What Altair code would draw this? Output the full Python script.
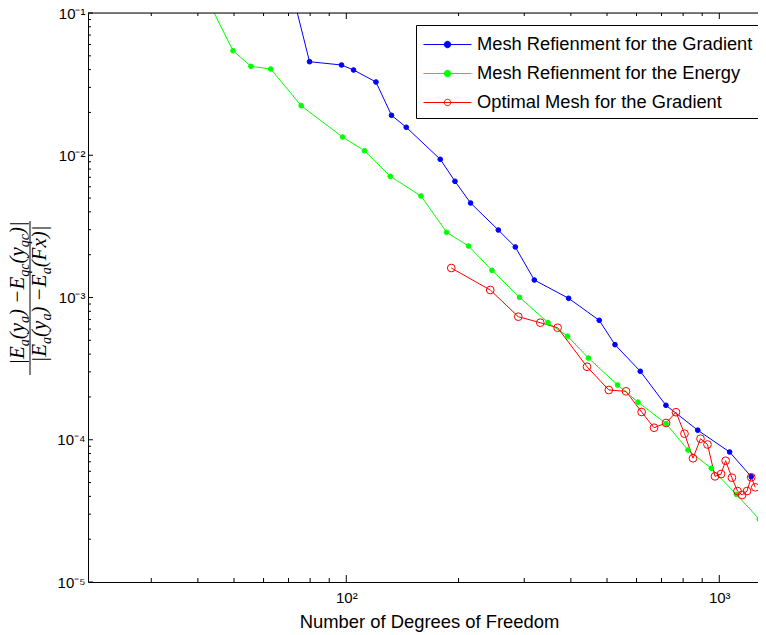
import altair as alt
import pandas as pd

SERIES = ["Mesh Refienment for the Gradient",
          "Mesh Refienment for the Energy",
          "Optimal Mesh for the Gradient"]
LINE_COLORS = ["#0000ff", "#00ff00", "#ff0000"]
FILL_COLORS = ["#0000ff", "#00ff00", "transparent"]

blue_x = [70.8, 79.7, 97.1, 104.6, 120.1, 132.2, 144.8, 178.6, 195.6, 215.4,
          255.6, 283.9, 319.2, 394.5, 476.6, 525.3, 614.0, 719.4, 875.6, 1066, 1218]
blue_y = [0.157, 0.04546, 0.04309, 0.03975, 0.03273, 0.01909, 0.01573, 0.009365,
          0.006561, 0.004616, 0.002981, 0.002265, 0.001327, 0.000987, 0.000691,
          0.000466, 0.000303, 0.0001747, 0.0001167, 8.2e-5, 5.5e-5]

green_x = [40.6, 49.7, 55.5, 62.7, 75.7, 97.7, 111.9, 131.2, 158.6, 185.8, 212.7,
           245.8, 291.5, 347.4, 392.0, 445.6, 533.8, 605.4, 720.0, 824.1, 951.9,
           1111, 1280]
green_y = [0.157, 0.0543, 0.0422, 0.0404, 0.0223, 0.01344, 0.01076, 0.00711,
           0.00517, 0.002872, 0.002301, 0.001553, 0.001003, 0.000665, 0.000534,
           0.0003755, 0.0002426, 0.0001837, 0.00013, 8.47e-5, 6.3e-5, 4.13e-5, 2.76e-5]

red_x = [191.2, 243.2, 289.1, 331.2, 368.6, 441.9, 505.6, 562.2, 619.1, 668.4,
         720.0, 765.5, 806.7, 850.3, 890.5, 929.8, 974, 1011, 1040, 1081, 1119,
         1151, 1187, 1218, 1249]
red_y = [0.001612, 0.001129, 0.000733, 0.000665, 0.000613, 0.000326, 0.0002237,
         0.000219, 0.0001567, 0.0001215, 0.0001312, 0.0001562, 0.0001103, 7.41e-5,
         0.0001017, 9.26e-5, 5.53e-5, 5.74e-5, 7.12e-5, 5.41e-5, 4.36e-5, 4.09e-5,
         4.36e-5, 5.45e-5, 4.63e-5]

X_LABEL_TICKS = [100, 1000]
Y_LABEL_TICKS = [1e-5, 1e-4, 1e-3, 1e-2, 1e-1]
X_MINOR = [30, 40, 50, 60, 70, 80, 90, 200, 300, 400, 500, 600, 700, 800, 900]
Y_MINOR = [k * 10.0 ** e for e in (-5, -4, -3, -2) for k in range(2, 10)]

X_TITLE = "Number of Degrees of Freedom"
NUMERATOR = [("|E", 0), ("a", 1), ("(y", 0), ("a", 1), (") \u2212E", 0), ("qc", 1),
             ("(y", 0), ("qc", 1), (")|", 0)]
DENOMINATOR = [("|E", 0), ("a", 1), ("(y", 0), ("a", 1), (") \u2212E", 0), ("a", 1),
               ("(Fx)|", 0)]

W, H = 670, 569
XDOM = [20.3, 1270]
YDOM = [1e-5, 1e-1]

rows = []
for name, xs_, ys_ in zip(SERIES, [blue_x, green_x, red_x], [blue_y, green_y, red_y]):
    for i, (a, b) in enumerate(zip(xs_, ys_)):
        rows.append({"series": name, "x": a, "y": b, "order": i})
df = pd.DataFrame(rows)

xscale = alt.Scale(type="log", domain=XDOM, nice=False)
yscale = alt.Scale(type="log", domain=YDOM, nice=False)

SANS = "Liberation Sans"
LEG_PATH = ("M-2,0H2M-0.27,0A0.27,0.27,0,1,0,0.27,0A0.27,0.27,0,1,0,-0.27,0")

legend = alt.Legend(title=None, orient="none", legendX=328, legendY=12,
                    strokeColor="black", fillColor="white", padding=7,
                    labelFont=SANS, labelFontSize=18.3, labelColor="black",
                    labelLimit=600, symbolType=LEG_PATH, symbolSize=576,
                    symbolStrokeWidth=1, symbolOffset=12, labelOffset=17,
                    rowPadding=8, cornerRadius=0, symbolOpacity=1)

x_axis = alt.Axis(values=X_LABEL_TICKS,
                  labelExpr="datum.value < 500 ? '10\u00b2' : '10\u00b3'",
                  title=X_TITLE, ticks=False, tickSize=0, grid=False,
                  domainColor="black", domainWidth=1, labelFont=SANS,
                  labelFontSize=15, labelColor="black", labelPadding=8,
                  labelFlush=False, titleFont=SANS, titleFontSize=18.4,
                  titleFontWeight="normal", titleColor="black", titlePadding=7,
                  titleX=341, titleAlign="center")
y_axis = alt.Axis(values=Y_LABEL_TICKS,
                  labelExpr="'10' + ['\u207b\u2075','\u207b\u2074','\u207b\u00b3','\u207b\u00b2','\u207b\u00b9'][round(log(datum.value)/LN10)+5]",
                  title=None, ticks=False, tickSize=0, grid=False,
                  domainColor="black", domainWidth=1, labelFont=SANS,
                  labelFontSize=15, labelColor="black", labelPadding=3,
                  labelFlush=False)

stroke_enc = alt.Stroke("series:N", scale=alt.Scale(domain=SERIES, range=LINE_COLORS),
                        legend=legend)
fill_enc = alt.Fill("series:N", scale=alt.Scale(domain=SERIES, range=FILL_COLORS),
                    legend=legend)

lines = alt.Chart(df).mark_line(strokeWidth=1, clip=True).encode(
    x=alt.X("x:Q", scale=xscale, axis=x_axis),
    y=alt.Y("y:Q", scale=yscale, axis=y_axis),
    stroke=stroke_enc,
    order="order:Q",
)

points = alt.Chart(df).transform_filter(alt.datum.y <= YDOM[1]).mark_point(
    shape="circle", strokeWidth=1, opacity=1, fillOpacity=1).encode(
    x=alt.X("x:Q", scale=xscale),
    y=alt.Y("y:Q", scale=yscale),
    stroke=stroke_enc,
    fill=fill_enc,
    size=alt.condition(alt.datum.series == SERIES[2], alt.value(60), alt.value(22)),
)

layers = [lines, points]

def xticks(vals, length):
    d = pd.DataFrame({"x": vals})
    bot = alt.Chart(d).mark_rule(color="black", strokeWidth=1).encode(
        x=alt.X("x:Q", scale=xscale), y=alt.value(H), y2=alt.value(H - length))
    top = alt.Chart(d).mark_rule(color="black", strokeWidth=1).encode(
        x=alt.X("x:Q", scale=xscale), y=alt.value(0), y2=alt.value(length - 1))
    return [bot, top]

def yticks(vals, length):
    d = pd.DataFrame({"y": vals})
    return [alt.Chart(d).mark_rule(color="black", strokeWidth=1).encode(
        y=alt.Y("y:Q", scale=yscale), x=alt.value(0), x2=alt.value(length))]

layers += xticks(X_LABEL_TICKS, 7) + xticks(X_MINOR, 4)
layers += yticks(Y_LABEL_TICKS, 5) + yticks(Y_MINOR, 3)

one = pd.DataFrame({"k": [0]})
layers.append(alt.Chart(one).mark_rule(color="black", strokeWidth=1).encode(
    x=alt.value(0), x2=alt.value(W), y=alt.value(0)))

# y-axis title as a rotated fraction
WID = {"|": 0.276, "E": 0.611, "a": 0.5, "(": 0.333, ")": 0.333, "y": 0.444,
       " ": 0.25, "\u2212": 0.675, "q": 0.5, "c": 0.444, "F": 0.611, "x": 0.444}
MAIN, SUB = 21, 14

def frac_line(pieces, base_x, center_y):
    widths = [sum(WID.get(ch, 0.5) for ch in t) * (SUB if s else MAIN) for t, s in pieces]
    total = sum(widths)
    y = center_y + total / 2
    out = []
    for (t, s), w in zip(pieces, widths):
        out.append(alt.Chart(one).mark_text(
            text=t, angle=270, align="left", baseline="alphabetic",
            font="Liberation Serif", fontStyle="italic",
            fontSize=SUB if s else MAIN, color="black").encode(
            x=alt.value(base_x + (4.5 if s else 0)), y=alt.value(y)))
        y -= w
    return out

layers += frac_line(NUMERATOR, -64, 280)
layers += frac_line(DENOMINATOR, -42, 281)
layers.append(alt.Chart(one).mark_rule(color="black", strokeWidth=1).encode(
    x=alt.value(-58), y=alt.value(208), y2=alt.value(362)))

chart = alt.layer(*layers).properties(
    width=W, height=H,
    padding={"left": 80, "top": 5, "right": 0, "bottom": 50},
    autosize=alt.AutoSizeParams(type="none"),
).configure_view(stroke=None).configure(background="white")

chart.save("out.html", embed_options={"renderer": "svg", "actions": False})
